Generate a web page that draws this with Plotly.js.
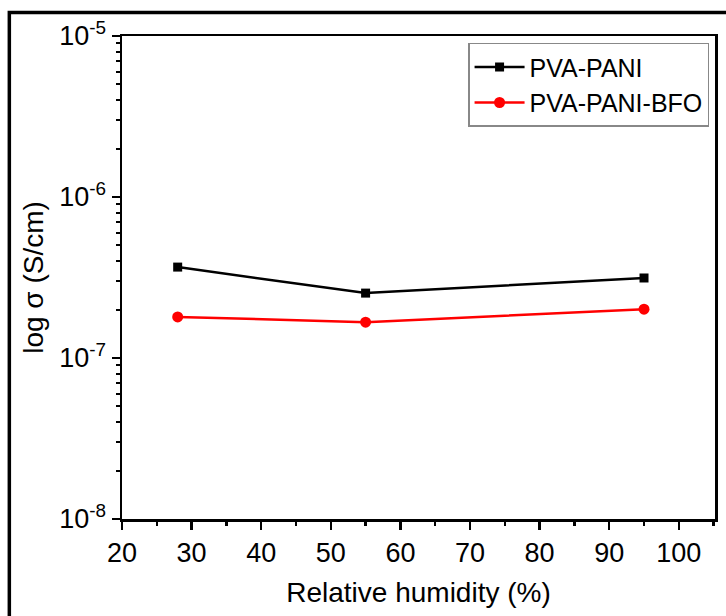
<!DOCTYPE html>
<html>
<head>
<meta charset="utf-8">
<script src="https://cdn.plot.ly/plotly-3.0.1.min.js"></script>
<style>
html,body{margin:0;padding:0;background:#fff;}
#chart{width:726px;height:616px;}
</style>
</head>
<body>
<div id="chart"></div>
<script>
const humidity = [28, 55, 95];
const pvaPani = [3.67e-7, 2.53e-7, 3.14e-7];
const pvaPaniBfo = [1.80e-7, 1.67e-7, 2.01e-7];
const yTickVals = [1e-8, 1e-7, 1e-6, 1e-5];
const yTickText = ['10<sup>-8</sup>', '10<sup>-7</sup>', '10<sup>-6</sup>', '10<sup>-5</sup>'];
const xTickVals = [20, 30, 40, 50, 60, 70, 80, 90, 100];

const font = {family: 'Arial, "Liberation Sans", sans-serif', color: '#000'};

const traces = [
  {x: humidity, y: pvaPani, name: 'PVA-PANI', mode: 'lines+markers',
   line: {color: '#000000', width: 2.5}, marker: {symbol: 'square', size: 9, color: '#000000'}},
  {x: humidity, y: pvaPaniBfo, name: 'PVA-PANI-BFO', mode: 'lines+markers',
   line: {color: '#ff0000', width: 2.5}, marker: {symbol: 'circle', size: 11, color: '#ff0000'}}
];

const layout = {
  width: 726, height: 616,
  margin: {l: 122, r: 11, t: 36, b: 97},
  paper_bgcolor: '#fff', plot_bgcolor: '#fff',
  font: Object.assign({size: 25}, font),
  showlegend: true,
  legend: {x: 0.99, y: 0.986, xanchor: 'right', yanchor: 'top',
    bordercolor: '#888', borderwidth: 1.5, bgcolor: '#fff',
    font: Object.assign({size: 25}, font), tracegroupgap: 0, itemwidth: 50},
  xaxis: {
    range: [20, 105.2], tickvals: xTickVals, showgrid: false, zeroline: false,
    ticks: 'outside', ticklen: 8, tickwidth: 2.5, tickcolor: '#000',
    showline: true, linecolor: '#000', linewidth: 2.5, mirror: true,
    tickfont: Object.assign({size: 27}, font),
    minor: {dtick: 5, ticks: 'outside', ticklen: 4, tickwidth: 2.5, tickcolor: '#000', showgrid: false},
    title: {text: 'Relative humidity (%)', font: Object.assign({size: 28}, font), standoff: 16}
  },
  yaxis: {
    type: 'log', range: [-8, -5], tickvals: yTickVals, ticktext: yTickText,
    showgrid: false, zeroline: false,
    ticks: 'outside', ticklen: 8, tickwidth: 2.5, tickcolor: '#000',
    showline: true, linecolor: '#000', linewidth: 2.5, mirror: true,
    tickfont: Object.assign({size: 27}, font),
    minor: {dtick: 'D1', ticks: 'outside', ticklen: 4, tickwidth: 2, tickcolor: '#000', showgrid: false},
    title: {text: 'log σ (S/cm)', font: Object.assign({size: 28}, font), standoff: 8}
  },
  shapes: [
    {type: 'rect', xref: 'paper', yref: 'paper', x0: -0.19, x1: 1.05, y0: -0.3, y1: 1.0487,
     line: {color: '#000', width: 3.5}, fillcolor: 'rgba(0,0,0,0)', layer: 'above'}
  ]
};

Plotly.newPlot('chart', traces, layout, {displayModeBar: false, staticPlot: true});
</script>
</body>
</html>
